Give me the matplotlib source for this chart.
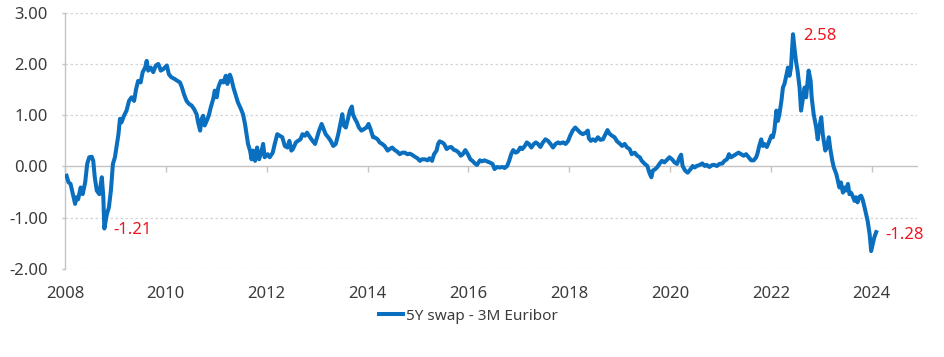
import matplotlib
matplotlib.use("Agg")
import matplotlib.pyplot as plt
from matplotlib.ticker import FormatStrFormatter

# ---- data (decimal year, spread in %-points) ----
years = [
    2008.03, 2008.07, 2008.11, 2008.15, 2008.20, 2008.23, 2008.26, 2008.31, 2008.35, 2008.40,
    2008.44, 2008.48, 2008.53, 2008.56, 2008.59, 2008.63, 2008.68, 2008.73, 2008.76, 2008.78,
    2008.83, 2008.87, 2008.91, 2008.95, 2008.99, 2009.02, 2009.06, 2009.09, 2009.12, 2009.17,
    2009.22, 2009.27, 2009.32, 2009.37, 2009.41, 2009.45, 2009.50, 2009.54, 2009.59, 2009.62,
    2009.65, 2009.70, 2009.75, 2009.80, 2009.85, 2009.90, 2009.95, 2009.98, 2010.02, 2010.06,
    2010.11, 2010.17, 2010.23, 2010.28, 2010.32, 2010.36, 2010.41, 2010.46, 2010.51, 2010.56,
    2010.61, 2010.64, 2010.68, 2010.71, 2010.74, 2010.77, 2010.81, 2010.85, 2010.89, 2010.94,
    2010.97, 2011.01, 2011.04, 2011.09, 2011.14, 2011.19, 2011.22, 2011.27, 2011.30, 2011.34,
    2011.38, 2011.43, 2011.49, 2011.53, 2011.57, 2011.60, 2011.63, 2011.67, 2011.70, 2011.73,
    2011.77, 2011.81, 2011.85, 2011.90, 2011.93, 2011.96, 2012.02, 2012.06, 2012.12, 2012.16,
    2012.21, 2012.26, 2012.31, 2012.36, 2012.41, 2012.45, 2012.49, 2012.52, 2012.58, 2012.62,
    2012.67, 2012.71, 2012.76, 2012.80, 2012.86, 2012.91, 2012.96, 2013.00, 2013.04, 2013.09,
    2013.13, 2013.17, 2013.22, 2013.27, 2013.32, 2013.37, 2013.42, 2013.46, 2013.50, 2013.53,
    2013.57, 2013.62, 2013.65, 2013.69, 2013.71, 2013.75, 2013.79, 2013.83, 2013.88, 2013.93,
    2013.98, 2014.02, 2014.06, 2014.11, 2014.14, 2014.20, 2014.24, 2014.29, 2014.34, 2014.40,
    2014.44, 2014.49, 2014.54, 2014.59, 2014.64, 2014.69, 2014.74, 2014.79, 2014.84, 2014.88,
    2014.94, 2014.99, 2015.04, 2015.08, 2015.14, 2015.19, 2015.23, 2015.28, 2015.32, 2015.37,
    2015.40, 2015.43, 2015.48, 2015.52, 2015.57, 2015.61, 2015.66, 2015.72, 2015.76, 2015.81,
    2015.85, 2015.89, 2015.94, 2015.99, 2016.04, 2016.08, 2016.13, 2016.17, 2016.23, 2016.27,
    2016.32, 2016.37, 2016.42, 2016.48, 2016.52, 2016.57, 2016.62, 2016.68, 2016.72, 2016.77,
    2016.81, 2016.85, 2016.89, 2016.94, 2016.98, 2017.03, 2017.07, 2017.12, 2017.16, 2017.20,
    2017.25, 2017.30, 2017.34, 2017.38, 2017.43, 2017.48, 2017.53, 2017.58, 2017.63, 2017.68,
    2017.73, 2017.78, 2017.82, 2017.88, 2017.93, 2017.98, 2018.02, 2018.07, 2018.12, 2018.17,
    2018.22, 2018.27, 2018.33, 2018.37, 2018.39, 2018.43, 2018.47, 2018.52, 2018.57, 2018.62,
    2018.67, 2018.72, 2018.76, 2018.80, 2018.85, 2018.90, 2018.95, 2019.00, 2019.05, 2019.10,
    2019.15, 2019.20, 2019.24, 2019.30, 2019.35, 2019.40, 2019.44, 2019.50, 2019.55, 2019.59,
    2019.63, 2019.66, 2019.71, 2019.75, 2019.79, 2019.84, 2019.89, 2019.95, 2019.99, 2020.04,
    2020.09, 2020.14, 2020.19, 2020.22, 2020.25, 2020.30, 2020.35, 2020.41, 2020.45, 2020.49,
    2020.53, 2020.59, 2020.64, 2020.69, 2020.73, 2020.78, 2020.84, 2020.88, 2020.93, 2020.98,
    2021.04, 2021.08, 2021.13, 2021.17, 2021.21, 2021.26, 2021.31, 2021.36, 2021.41, 2021.46,
    2021.51, 2021.56, 2021.61, 2021.66, 2021.71, 2021.74, 2021.77, 2021.81, 2021.84, 2021.87,
    2021.92, 2021.96, 2022.01, 2022.04, 2022.07, 2022.11, 2022.14, 2022.17, 2022.21, 2022.24,
    2022.27, 2022.30, 2022.34, 2022.37, 2022.40, 2022.44, 2022.47, 2022.50, 2022.53, 2022.57,
    2022.60, 2022.63, 2022.67, 2022.70, 2022.73, 2022.75, 2022.79, 2022.81, 2022.85, 2022.90,
    2022.93, 2022.96, 2023.00, 2023.03, 2023.08, 2023.12, 2023.15, 2023.18, 2023.22, 2023.25,
    2023.30, 2023.33, 2023.36, 2023.39, 2023.43, 2023.46, 2023.49, 2023.53, 2023.56, 2023.59,
    2023.62, 2023.66, 2023.69, 2023.72, 2023.76, 2023.79, 2023.82, 2023.86, 2023.89, 2023.92,
    2023.96, 2023.99, 2024.02, 2024.05, 2024.09,
]
spread = [
    -0.18, -0.31, -0.34, -0.51, -0.73, -0.60, -0.64, -0.41, -0.54, -0.31,
    0.05, 0.18, 0.19, 0.11, -0.21, -0.47, -0.54, -0.21, -0.60, -1.21,
    -0.93, -0.80, -0.47, 0.05, 0.18, 0.37, 0.63, 0.93, 0.86, 0.99,
    1.09, 1.28, 1.35, 1.28, 1.51, 1.67, 1.64, 1.84, 1.93, 2.06,
    1.87, 1.93, 1.84, 1.97, 2.00, 1.87, 1.90, 1.93, 1.97, 1.80,
    1.74, 1.71, 1.67, 1.64, 1.54, 1.41, 1.28, 1.22, 1.19, 1.12,
    1.02, 0.86, 0.70, 0.93, 0.99, 0.80, 0.89, 0.99, 1.15, 1.32,
    1.48, 1.35, 1.54, 1.67, 1.64, 1.77, 1.61, 1.79, 1.71, 1.54,
    1.41, 1.25, 1.12, 1.02, 0.83, 0.63, 0.44, 0.31, 0.14, 0.31,
    0.11, 0.37, 0.14, 0.31, 0.44, 0.18, 0.24, 0.18, 0.27, 0.44,
    0.63, 0.60, 0.57, 0.40, 0.37, 0.50, 0.31, 0.34, 0.47, 0.50,
    0.53, 0.63, 0.60, 0.66, 0.57, 0.50, 0.44, 0.57, 0.70, 0.83,
    0.73, 0.63, 0.57, 0.50, 0.40, 0.44, 0.63, 0.83, 1.02, 0.80,
    0.76, 0.96, 1.09, 1.17, 1.02, 0.93, 0.86, 0.76, 0.70, 0.73,
    0.76, 0.83, 0.73, 0.57, 0.57, 0.53, 0.47, 0.44, 0.40, 0.31,
    0.34, 0.37, 0.32, 0.29, 0.24, 0.27, 0.27, 0.24, 0.25, 0.23,
    0.19, 0.16, 0.11, 0.14, 0.14, 0.12, 0.16, 0.11, 0.24, 0.31,
    0.44, 0.49, 0.47, 0.44, 0.34, 0.37, 0.38, 0.32, 0.31, 0.27,
    0.21, 0.24, 0.32, 0.24, 0.14, 0.11, 0.06, 0.03, 0.12, 0.10,
    0.12, 0.10, 0.08, 0.05, -0.05, -0.01, -0.02, -0.01, -0.03, 0.01,
    0.11, 0.24, 0.32, 0.27, 0.29, 0.37, 0.34, 0.40, 0.47, 0.44,
    0.37, 0.44, 0.47, 0.44, 0.38, 0.47, 0.53, 0.50, 0.44, 0.37,
    0.44, 0.47, 0.45, 0.47, 0.44, 0.50, 0.60, 0.70, 0.76, 0.71,
    0.66, 0.63, 0.66, 0.70, 0.55, 0.50, 0.53, 0.50, 0.57, 0.52,
    0.53, 0.63, 0.71, 0.64, 0.60, 0.57, 0.49, 0.45, 0.40, 0.44,
    0.37, 0.34, 0.24, 0.27, 0.21, 0.18, 0.11, 0.05, 0.01, -0.12,
    -0.21, -0.08, -0.05, -0.01, 0.05, 0.11, 0.08, 0.14, 0.18, 0.14,
    0.08, 0.05, 0.18, 0.23, 0.01, -0.08, -0.12, -0.05, 0.01, -0.02,
    0.01, 0.03, 0.06, 0.01, 0.03, -0.01, 0.03, 0.03, 0.01, 0.05,
    0.06, 0.11, 0.14, 0.24, 0.18, 0.21, 0.24, 0.27, 0.24, 0.21,
    0.24, 0.18, 0.12, 0.12, 0.18, 0.27, 0.40, 0.53, 0.40, 0.44,
    0.38, 0.47, 0.60, 0.57, 0.70, 1.09, 0.89, 1.02, 1.28, 1.54,
    1.61, 1.74, 1.93, 1.77, 1.93, 2.58, 2.30, 2.05, 1.87, 1.54,
    1.09, 1.28, 1.54, 1.35, 1.67, 1.87, 1.67, 1.35, 1.02, 0.76,
    0.53, 0.76, 0.96, 0.63, 0.31, 0.40, 0.57, 0.34, 0.11, -0.02,
    -0.15, -0.28, -0.41, -0.31, -0.51, -0.41, -0.47, -0.34, -0.54, -0.51,
    -0.57, -0.67, -0.60, -0.70, -0.59, -0.57, -0.64, -0.80, -0.93, -1.06,
    -1.32, -1.65, -1.52, -1.39, -1.28,
]
series_name = "5Y swap - 3M Euribor"
x_ticks = [2008, 2010, 2012, 2014, 2016, 2018, 2020, 2022, 2024]
y_ticks = [-2.0, -1.0, 0.0, 1.0, 2.0, 3.0]
# highlighted points (indices into the series)
labelled = [19, spread.index(2.58), len(spread) - 1]

plt.rcParams["font.family"] = ["Noto Sans", "DejaVu Sans"]
plt.rcParams["axes.unicode_minus"] = False

LINE = "#0a6fbf"
GREY = "#c4c4c4"
TXT = "#3c3c3c"
RED = "#f0141e"

fig = plt.figure(figsize=(9.45, 3.57), dpi=100)
ax = fig.add_axes([0.0688, 0.2465, 0.9016, 0.7179])

ax.plot(years, spread, color=LINE, lw=2.9, solid_joinstyle="round", label=series_name, zorder=3)

ax.set_xlim(2008.0, 2024.9)
ax.set_ylim(-2.0, 3.0)
ax.set_yticks(y_ticks)
ax.yaxis.set_major_formatter(FormatStrFormatter("%.2f"))
ax.set_xticks(x_ticks)

# dotted gridlines except at zero, which is the x axis itself
for yv in y_ticks:
    if yv != 0:
        ax.axhline(yv, color="#d4d4d4", lw=0.9, ls=(0, (2, 2)), zorder=1)

for s in ["top", "right"]:
    ax.spines[s].set_visible(False)
ax.spines["left"].set_color(GREY)
ax.spines["bottom"].set_color(GREY)
ax.spines["bottom"].set_position(("data", 0))
ax.spines["left"].set_linewidth(1.0)
ax.spines["bottom"].set_linewidth(1.0)

ax.tick_params(axis="y", direction="out", length=2.5, width=1.0, color=GREY,
               labelsize=12, labelcolor=TXT, pad=10)
ax.tick_params(axis="x", direction="out", length=4, width=1.0, color=GREY,
               labelbottom=False)

sec = ax.secondary_xaxis("bottom", functions=(lambda v: v, lambda v: v))
sec.set_xticks(x_ticks)
sec.spines["bottom"].set_visible(False)
sec.tick_params(length=0, labelsize=12, labelcolor=TXT, pad=12)

# value labels
offsets = [(6.5, -1), (7.7, -1), (6.5, -2)]
for idx, (dx, dy) in zip(labelled, offsets):
    ax.annotate(f"{spread[idx]:.2f}", xy=(years[idx], spread[idx]),
                xytext=(dx, dy), textcoords="offset points",
                ha="left", va="center", color=RED, fontsize=12)

fig.legend(loc="center", bbox_to_anchor=(0.4955, 1 - 316 / 357), frameon=False,
           fontsize=11, handlelength=1.6, handletextpad=0.15, labelcolor=TXT)

fig.savefig("out.png", dpi=100)
